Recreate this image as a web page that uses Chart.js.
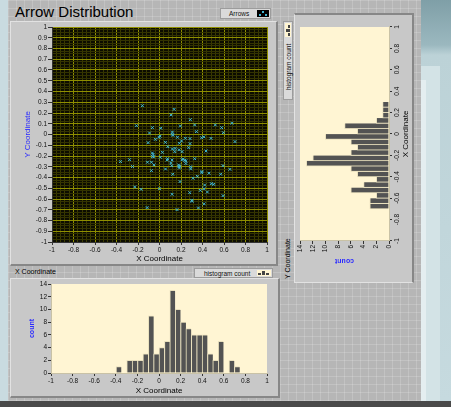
<!DOCTYPE html>
<html>
<head>
<meta charset="utf-8">
<script src="https://cdn.jsdelivr.net/npm/chart.js@4.4.0/dist/chart.umd.min.js"></script>
<style>
  html, body { margin: 0; padding: 0; }
  body {
    width: 451px; height: 407px; position: relative; overflow: hidden;
    background: #c9dbe0;
    font-family: "Liberation Sans", Arial, sans-serif;
  }
  .abs { position: absolute; }
  #panel {
    left: 8px; top: 0; width: 413px; height: 401px;
    background-color: #b6b6b6;
    background-image:
      linear-gradient(rgba(255,255,255,0.16) 1px, transparent 1px),
      linear-gradient(90deg, rgba(255,255,255,0.16) 1px, transparent 1px);
    background-size: 8px 8px;
  }
  #sideBlue {
    left: 421px; top: 0; width: 30px; height: 401px;
    background: linear-gradient(#7f9fa7 0px, #9bb8bf 45px, #bcd2d7 55px, #c6dadf 100%);
  }
  #sideLight { left: 421px; top: 66px; width: 19px; height: 335px; background: #d3e3e6; }
  #sideLighter { left: 421px; top: 80px; width: 5px; height: 321px; background: #e4eef0; }
  #bottomBar { left: 0; top: 401px; width: 451px; height: 6px; background: #4a4a4a; }
  .frame {
    box-sizing: border-box; background: #c8c8c8;
    border-top: 1px solid #e2e2e2; border-left: 1px solid #e2e2e2;
    border-right: 2px solid #878787; border-bottom: 2px solid #878787;
  }
  .legend {
    box-sizing: border-box; background: #dadada; border: 1px solid #9c9c9c;
    font-size: 6.5px; line-height: 9px; color: #111; white-space: nowrap;
  }
  .small { font-size: 7px; color: #000; white-space: nowrap; }
  #title { left: 15px; top: 3px; font-size: 15px; line-height: 1.15; color: #000; white-space: nowrap; }
  canvas { position: absolute; }
  #rightPanel {
    left: 283px; top: 283px; width: 270px; height: 135px;
    transform: rotate(-90deg); transform-origin: 0 0;
  }
</style>
</head>
<body>
<div id="panel" class="abs"></div>
<div id="sideBlue" class="abs"></div>
<div id="sideLight" class="abs"></div>
<div id="sideLighter" class="abs"></div>
<div id="bottomBar" class="abs"></div>

<div id="title" class="abs">Arrow Distribution</div>

<!-- scatter -->
<div class="abs legend" style="left:220px;top:8px;width:51px;height:11px;">
  <span class="abs" style="left:8px;top:0;">Arrows</span>
  <div class="abs" style="left:36px;top:1px;width:12px;height:7px;background:#000;">
    <span class="abs" style="left:5px;top:1px;width:2px;height:2px;background:#3fb6d3;"></span>
    <span class="abs" style="left:2px;top:4px;width:2px;height:2px;background:#3fb6d3;"></span>
    <span class="abs" style="left:8px;top:4px;width:2px;height:2px;background:#3fb6d3;"></span>
  </div>
</div>
<div class="abs frame" style="left:10px;top:21px;width:268px;height:245px;"></div>
<canvas id="scatterChart" width="268" height="245" style="left:10px;top:21px;"></canvas>

<!-- bottom histogram -->
<div class="abs small" style="left:15px;top:268px;">X Coordinate</div>
<div class="abs legend" style="left:194px;top:268px;width:79px;height:10px;">
  <span class="abs" style="left:9px;top:0;">histogram count</span>
  <div class="abs" style="left:62px;top:1px;width:14px;height:6px;background:#fff5d2;">
    <span class="abs" style="left:1px;top:3px;width:3px;height:2px;background:#444;"></span>
    <span class="abs" style="left:5px;top:1px;width:3px;height:4px;background:#444;"></span>
    <span class="abs" style="left:9px;top:3px;width:3px;height:2px;background:#444;"></span>
  </div>
</div>
<div class="abs frame" style="left:10px;top:278px;width:270px;height:120px;"></div>
<canvas id="xHistChart" width="270" height="120" style="left:10px;top:278px;"></canvas>

<!-- right histogram, drawn like the bottom one and turned a quarter left -->
<div id="rightPanel" class="abs">
  <div class="abs small" style="left:4px;top:1px;">Y Coordinate</div>
  <div class="abs legend" style="left:183px;top:0;width:79px;height:10px;">
    <span class="abs" style="left:9px;top:0;">histogram count</span>
    <div class="abs" style="left:62px;top:1px;width:14px;height:6px;background:#fff5d2;">
      <span class="abs" style="left:1px;top:3px;width:3px;height:2px;background:#444;"></span>
      <span class="abs" style="left:5px;top:1px;width:3px;height:4px;background:#444;"></span>
      <span class="abs" style="left:9px;top:3px;width:3px;height:2px;background:#444;"></span>
    </div>
  </div>
  <div class="abs frame" style="left:0;top:11px;width:270px;height:120px;"></div>
  <canvas id="yHistChart" width="270" height="120" style="left:0;top:11px;"></canvas>
</div>

<script>
// arrow positions
const arrowX = [
  -0.159, 0.136, 0.108, 0.287, 0.674, -0.214, 0.194, 0.327, 0.519, 0.578,
  -0.066, 0.012, -0.093, 0.120, 0.594, 0.343, 0.120, -0.004, 0.005, -0.038,
  0.167, 0.241, 0.284, 0.392, 0.413, 0.479, 0.125, -0.106, 0.055, 0.205,
  0.284, 0.702, 0.185, 0.077, 0.120, 0.272, 0.182, 0.145, 0.027, 0.433,
  0.142, 0.210, -0.066, -0.060, -0.055, -0.279, 0.008, 0.071, 0.117, 0.210,
  0.245, 0.235, 0.327, -0.065, 0.075, 0.220, -0.363, -0.112, -0.075, -0.052,
  0.179, 0.114, 0.188, 0.591, 0.290, 0.105, 0.245, 0.180, -0.251, -0.075,
  0.056, 0.655, 0.185, 0.395, 0.290, 0.352, 0.123, 0.569, 0.460, 0.393,
  0.312, 0.191, -0.230, 0.482, 0.504, 0.420, -0.171, 0.000, 0.414, 0.445,
  0.281, 0.380, 0.117, 0.591, 0.303, 0.415, 0.300, -0.115, 0.362, 0.163
];
const arrowY = [
  0.268, 0.234, 0.182, 0.138, 0.105, 0.082, 0.079, 0.089, 0.089, 0.064,
  0.064, 0.058, 0.014, 0.023, 0.017, 0.027, 0.002, -0.026, -0.015, -0.045,
  -0.026, -0.035, -0.038, -0.030, -0.022, -0.036, -0.008, -0.076, -0.073, -0.060,
  -0.085, -0.066, -0.082, -0.113, -0.135, -0.122, -0.142, -0.130, -0.166, -0.153,
  -0.159, -0.159, -0.172, -0.185, -0.209, -0.234, -0.212, -0.237, -0.237, -0.234,
  -0.246, -0.240, -0.225, -0.205, -0.225, -0.228, -0.252, -0.258, -0.258, -0.283,
  -0.283, -0.290, -0.293, -0.290, -0.300, -0.265, -0.270, -0.300, -0.298, -0.336,
  -0.321, -0.324, -0.312, -0.345, -0.320, -0.389, -0.370, -0.370, -0.360, -0.355,
  -0.407, -0.438, -0.488, -0.457, -0.464, -0.470, -0.510, -0.504, -0.505, -0.535,
  -0.541, -0.520, -0.556, -0.569, -0.621, -0.645, -0.612, -0.680, -0.683, -0.699
];

// histogram of X coordinate (bin centres, counts)
const xBinCenters = [
  -0.373, -0.323, -0.274, -0.224, -0.174, -0.124, -0.074, -0.025, 0.025, 0.075,
  0.125, 0.175, 0.225, 0.274, 0.324, 0.374, 0.424, 0.474, 0.523, 0.573,
  0.623, 0.673, 0.723
];
const xBinCounts = [1, 0, 2, 2, 2, 3, 9, 3, 4, 5, 13, 10, 8, 7, 6, 6, 6, 3, 2, 5, 0, 2, 1];

// histogram of Y coordinate
const yBinCenters = [
  -0.676, -0.626, -0.576, -0.526, -0.476, -0.426, -0.376, -0.326, -0.276, -0.226,
  -0.176, -0.126, -0.076, -0.026, 0.024, 0.074, 0.124, 0.174, 0.224, 0.274
];
const yBinCounts = [3, 3, 2, 6, 4, 2, 5, 6, 13, 12, 6, 5, 6, 10, 5, 7, 2, 1, 1, 1];

const coordMin = -1, coordMax = 1;
const countMax = 14;

const tickFont = { family: 'Liberation Sans', size: 6.5 };
const titleFont = { family: 'Liberation Sans', size: 8 };
const countFont = { family: 'Liberation Sans', size: 7, weight: 'bold' };

// fills the plot area before anything else is drawn
const plotBackground = {
    id: 'plotBackground',
    beforeDraw(chart, args, opts) {
        const { ctx, chartArea: a } = chart;
        ctx.save();
        ctx.fillStyle = opts.color;
        ctx.fillRect(a.left, a.top, a.right - a.left, a.bottom - a.top);
        ctx.restore();
    }
};

const isMultiple = (v, step) => Math.abs(v / step - Math.round(v / step)) < 1e-6;
const fmt = v => String(Math.round(v * 10) / 10);

Chart.defaults.animation = false;
Chart.defaults.responsive = false;
Chart.defaults.events = [];

new Chart(document.getElementById('scatterChart'), {
    type: 'scatter',
    data: {
        datasets: [{
            label: 'Arrows',
            data: arrowX.map((x, i) => ({ x: x, y: arrowY[i] })),
            pointStyle: 'crossRot',
            radius: 2,
            borderWidth: 1,
            borderColor: '#3fb6d3',
            backgroundColor: '#3fb6d3'
        }]
    },
    options: {
        layout: { padding: { top: 6, right: 11, left: 0, bottom: 0 } },
        plugins: {
            legend: { display: false },
            tooltip: { enabled: false },
            plotBackground: { color: '#0c0c00' }
        },
        scales: {
            x: {
                min: coordMin, max: coordMax,
                afterFit: s => { s.height = 24; },
                ticks: {
                    stepSize: 0.04, autoSkip: false, maxRotation: 0, padding: 1,
                    font: tickFont, color: '#111',
                    callback: v => isMultiple(v, 0.2) ? fmt(v) : ''
                },
                grid: {
                    color: c => isMultiple(c.tick.value, 0.2) ? '#8f8f00' : '#3a3a00',
                    tickColor: c => isMultiple(c.tick.value, 0.2) ? '#333' : 'rgba(0,0,0,0)',
                    tickLength: 3
                },
                border: { color: '#333' },
                title: {
                    display: true, text: 'X Coordinate', font: titleFont, color: '#000',
                    padding: { top: 0, bottom: 2 }
                }
            },
            y: {
                min: coordMin, max: coordMax,
                afterFit: s => { s.width = 42; },
                ticks: {
                    stepSize: 0.025, autoSkip: false, padding: 1,
                    font: tickFont, color: '#111',
                    callback: v => isMultiple(v, 0.1) ? fmt(v) : ''
                },
                grid: {
                    color: c => isMultiple(c.tick.value, 0.1) ? '#8f8f00' : '#333300',
                    tickColor: c => isMultiple(c.tick.value, 0.1) ? '#333' : 'rgba(0,0,0,0)',
                    tickLength: 4
                },
                border: { color: '#333' },
                title: {
                    display: true, text: 'Y Coordinate', font: titleFont, color: '#2b2bff',
                    padding: { top: 13, bottom: 0 }
                }
            }
        }
    },
    plugins: [plotBackground]
});

// both histograms share the same look
function histogramConfig(centers, counts) {
    return {
        type: 'bar',
        data: {
            datasets: [{
                label: 'histogram count',
                data: centers.map((x, i) => ({ x: x, y: counts[i] })),
                backgroundColor: '#535353',
                borderColor: '#e9e0bd',
                borderWidth: { top: 1, left: 1, right: 0, bottom: 0 },
                categoryPercentage: 1,
                barPercentage: 1
            }]
        },
        options: {
            layout: { padding: { top: 6, right: 13, left: 0, bottom: 0 } },
            plugins: {
                legend: { display: false },
                tooltip: { enabled: false },
                plotBackground: { color: '#fff5d3' }
            },
            scales: {
                x: {
                    type: 'linear', min: coordMin, max: coordMax, offset: false,
                    afterFit: s => { s.height = 25; },
                    ticks: {
                        stepSize: 0.2, autoSkip: false, maxRotation: 0, padding: 1,
                        font: tickFont, color: '#111', callback: v => fmt(v)
                    },
                    grid: { drawOnChartArea: false, offset: false, tickLength: 3, tickColor: '#333' },
                    border: { color: '#c9c2a6' },
                    title: {
                        display: true, text: 'X Coordinate', font: titleFont, color: '#000',
                        padding: { top: 0, bottom: 2.5 }
                    }
                },
                y: {
                    min: 0, max: countMax,
                    afterFit: s => { s.width = 41; },
                    ticks: { stepSize: 2, padding: 1, font: tickFont, color: '#111' },
                    grid: { drawOnChartArea: false, tickLength: 3, tickColor: '#333' },
                    border: { color: '#c9c2a6' },
                    title: {
                        display: true, text: 'count', font: countFont, color: '#2b2bff',
                        padding: { top: 18, bottom: 0 }
                    }
                }
            }
        },
        plugins: [plotBackground]
    };
}

new Chart(document.getElementById('xHistChart'), histogramConfig(xBinCenters, xBinCounts));

const yCfg = histogramConfig(yBinCenters, yBinCounts);
yCfg.options.layout.padding.right = 14;
yCfg.options.scales.y.afterFit = s => { s.width = 42; };
yCfg.options.scales.x.title.padding = { top: 0, bottom: 3.5 };
new Chart(document.getElementById('yHistChart'), yCfg);
</script>
</body>
</html>
